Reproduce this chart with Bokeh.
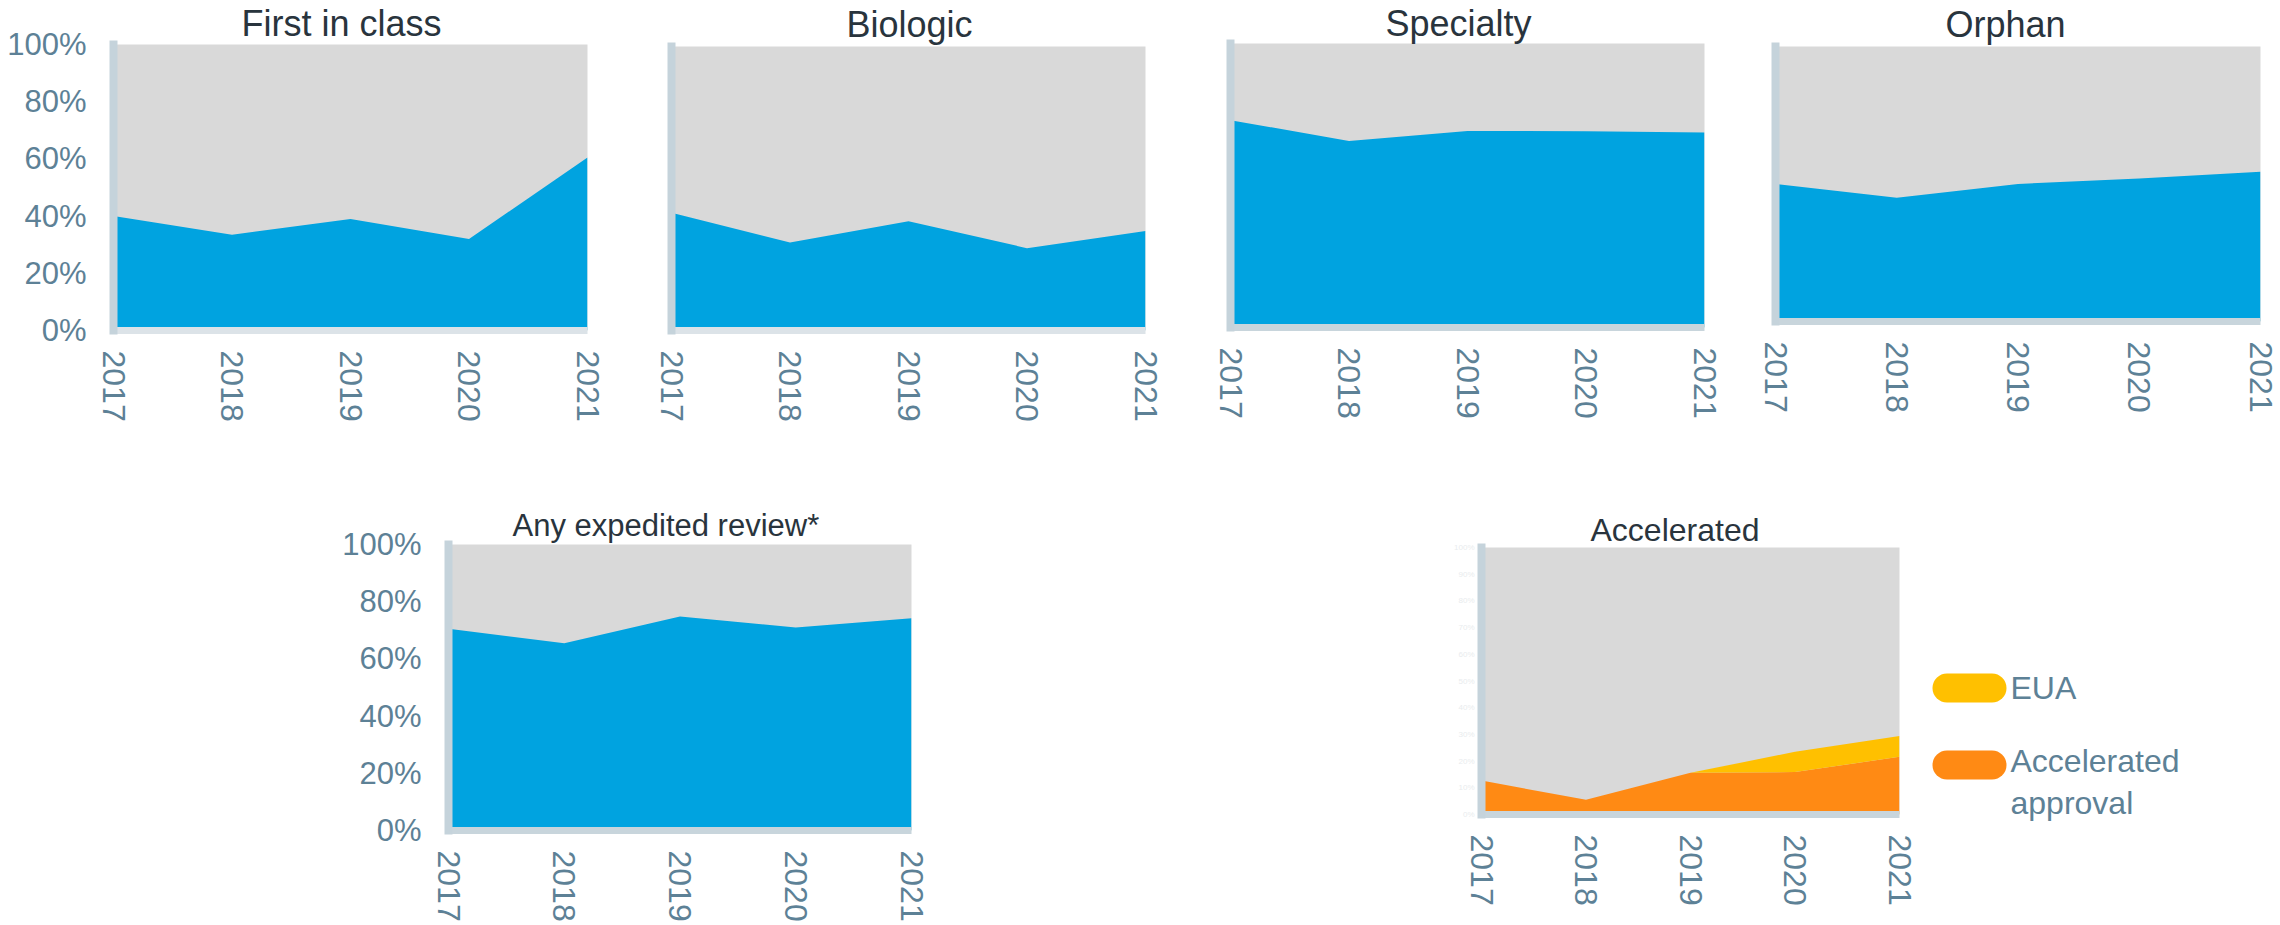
from bokeh.plotting import figure
from bokeh.models import (Range1d, FixedTicker, NumeralTickFormatter, Title,
                          ColumnDataSource)
from bokeh.core.properties import value
from bokeh.layouts import row, column
from bokeh.embed import file_html
from bokeh.resources import INLINE

# ---------------- data ----------------
years = [2017, 2018, 2019, 2020, 2021]
year_labels = ["2017", "2018", "2019", "2020", "2021"]
first_in_class = [0.40, 0.335, 0.39, 0.32, 0.605]
biologic = [0.415, 0.31, 0.385, 0.29, 0.35]
specialty = [0.73, 0.657, 0.692, 0.691, 0.687]
orphan = [0.50, 0.45, 0.50, 0.52, 0.545]
expedited = [0.705, 0.655, 0.748, 0.71, 0.742]
accelerated_approval = [0.127, 0.055, 0.156, 0.159, 0.216]
eua = [0.0, 0.0, 0.0, 0.076, 0.078]
y_ticks = [0.0, 0.2, 0.4, 0.6, 0.8, 1.0]
y_ticks_faint = [0.0, 0.1, 0.2, 0.3, 0.4, 0.5, 0.6, 0.7, 0.8, 0.9, 1.0]
titles = ["First in class", "Biologic", "Specialty", "Orphan",
          "Any expedited review*", "Accelerated"]
legend_labels = ["EUA", "Accelerated\napproval"]

# ---------------- style ----------------
FONT = "Liberation Sans"
BLUE = "#00a3e0"
GRAY = "#d9d9d9"
ORANGE = "#ff8a14"
YELLOW = "#ffc000"
TICK = "#5d8196"
TITLE = "#29343d"
AXIS_L = "#c5d3db"
AXIS_B_LIGHT = "#dce3e8"
AXIS_B = "#c8d5dc"


def make_panel(width, height, left, right, top, bottom, bottom_color,
               show_y=False, faint_y=False):
    p = figure(width=width, height=height, title=None,
               x_range=Range1d(years[0], years[-1]), y_range=Range1d(0, 1),
               output_backend="svg", toolbar_location=None,
               min_border_left=left, min_border_right=right,
               min_border_top=top, min_border_bottom=bottom)
    p.outline_line_color = None
    p.background_fill_color = GRAY
    p.border_fill_color = "white"
    p.xgrid.visible = False
    p.ygrid.visible = False

    xa = p.xaxis[0]
    xa.ticker = FixedTicker(ticks=years)
    xa.major_label_overrides = {y: l for y, l in zip(years, year_labels)}
    xa.major_label_orientation = "vertical"
    xa.major_label_text_font = FONT
    xa.major_label_text_font_size = "32px"
    xa.major_label_text_color = TICK
    xa.major_label_standoff = 20
    xa.major_tick_line_color = None
    xa.minor_tick_line_color = None
    xa.major_tick_out = 0
    xa.major_tick_in = 0
    xa.axis_line_width = 7
    xa.axis_line_color = bottom_color

    ya = p.yaxis[0]
    ya.major_tick_line_color = None
    ya.minor_tick_line_color = None
    ya.major_tick_out = 0
    ya.major_tick_in = 0
    ya.axis_line_width = 8
    ya.axis_line_color = AXIS_L
    ya.axis_line_cap = "square"
    if show_y:
        ya.ticker = FixedTicker(ticks=y_ticks)
        ya.formatter = NumeralTickFormatter(format="0%")
        ya.major_label_text_font = FONT
        ya.major_label_text_font_size = "31px"
        ya.major_label_text_color = TICK
        ya.major_label_standoff = 27
    elif faint_y:
        ya.ticker = FixedTicker(ticks=y_ticks_faint)
        ya.formatter = NumeralTickFormatter(format="0%")
        ya.major_label_text_font = FONT
        ya.major_label_text_font_size = "8px"
        ya.major_label_text_color = "#e9ecee"
        ya.major_label_standoff = 7
    else:
        ya.ticker = FixedTicker(ticks=[])
    return p


def add_title(p, text, size, dx, standoff):
    p.add_layout(Title(text=text, align="left", offset=dx,
                       standoff=standoff, text_font=FONT,
                       text_font_size=size, text_font_style="normal",
                       text_color=TITLE), "above")


def add_share(p, values):
    src = ColumnDataSource(dict(year=years, share=values))
    p.varea_stack(stackers=["share"], x="year", color=[BLUE], source=src)


TOP_H = 440
BOT_H = 485

f1 = make_panel(630, TOP_H, 113, 43, 43, 110, AXIS_B_LIGHT, show_y=True)
add_share(f1, first_in_class)
add_title(f1, titles[0], "36px", 128, 1)

f2 = make_panel(560, TOP_H, 41, 45, 44, 110, AXIS_B_LIGHT)
add_share(f2, biologic)
add_title(f2, titles[1], "36px", 175, 3)

f3 = make_panel(550, TOP_H, 40, 36, 38, 113, AXIS_B)
add_share(f3, specialty)
add_title(f3, titles[2], "36px", 155, 0)

f4 = make_panel(540, TOP_H, 35, 20, 44, 119, AXIS_B)
add_share(f4, orphan)
add_title(f4, titles[3], "36px", 170, 3)

f5 = make_panel(1000, BOT_H, 448, 89, 104, 95, AXIS_B, show_y=True)
add_share(f5, expedited)
add_title(f5, titles[4], "31px", 64, 4)

f6 = make_panel(920, BOT_H, 481, 21, 107, 111, AXIS_B, faint_y=True)
src6 = ColumnDataSource(dict(year=years, acc=accelerated_approval, eua=eua))
f6.varea_stack(stackers=["acc", "eua"], x="year", color=[ORANGE, YELLOW],
               source=src6)
add_title(f6, titles[5], "32px", 109, 0)

# ---------------- legend (own small canvas, pixel-like units) -------------
LEG_W = 360
fl = figure(width=LEG_W, height=BOT_H, title=None,
            x_range=Range1d(0, LEG_W), y_range=Range1d(0, BOT_H),
            output_backend="svg", toolbar_location=None,
            min_border_left=0, min_border_right=0,
            min_border_top=0, min_border_bottom=0)
fl.axis.visible = False
fl.grid.visible = False
fl.outline_line_color = None
fl.background_fill_color = "white"
fl.border_fill_color = "white"

pill_y = [237.5, 160.5]          # swatch centre lines (layout positions)
pill_x0, pill_x1 = 26.5, 71.5    # straight part of the pill
fl.segment(x0=[pill_x0] * 2, y0=pill_y, x1=[pill_x1] * 2, y1=pill_y,
           line_color=[YELLOW, ORANGE], line_width=29, line_cap="round")
fl.text(x=[90, 90], y=[238, 143.5], text=legend_labels,
        text_font=value(FONT), text_font_size="32px", text_color=TICK,
        text_baseline="middle", text_align="left", text_line_height=1.16)

layout = column(row(column(f1), column(f2), column(f3), column(f4)),
                row(column(f5), column(f6), column(fl)))

open("out.html", "w").write(file_html(layout, INLINE))
